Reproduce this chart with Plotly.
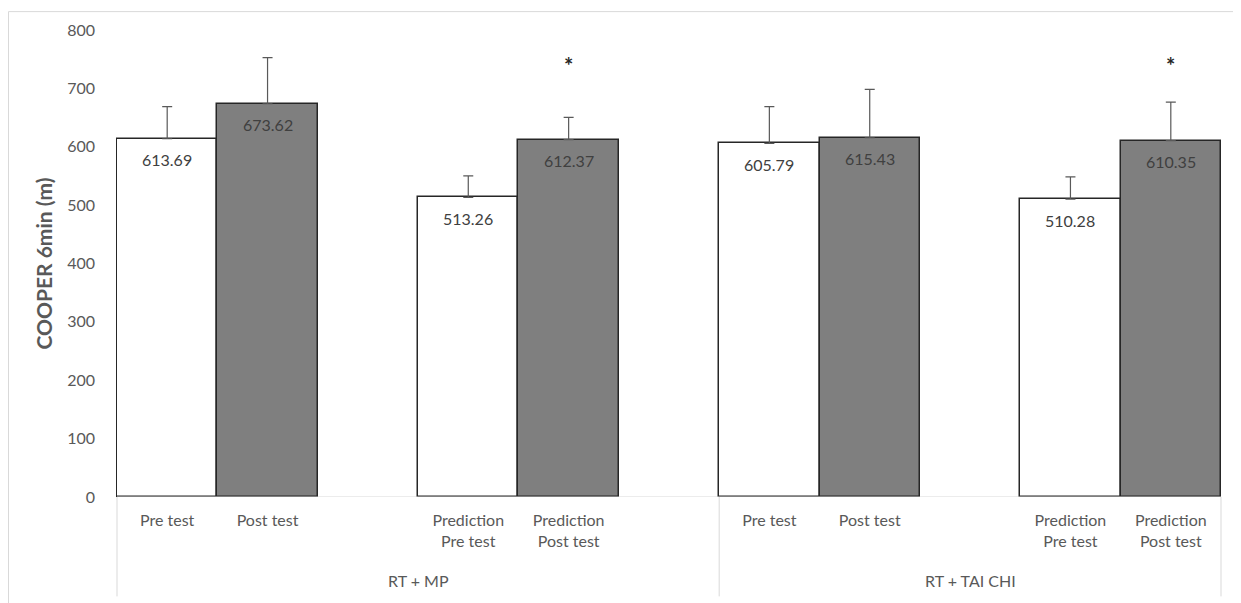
import plotly.graph_objects as go

# ---- data ----
groups = ["RT + MP", "RT + TAI CHI"]
pre_labels = ["Pre test", "Prediction<br>Pre test", "Pre test", "Prediction<br>Pre test"]
post_labels = ["Post test", "Prediction<br>Post test", "Post test", "Prediction<br>Post test"]
pre_values = [613.69, 513.26, 605.79, 510.28]
post_values = [673.62, 612.37, 615.43, 610.35]
pre_err = [55, 37, 63, 38]
post_err = [79, 38, 83, 66]
post_sig = ["", "*", "", "*"]
y_ticks = [0, 100, 200, 300, 400, 500, 600, 700, 800]

# category slot layout (Excel-like with blank spacer categories)
pre_x = [0, 3, 6, 9]
post_x = [1, 4, 7, 10]
group_centers = [2.5, 8.0]
dividers = [-0.5, 5.5, 10.5]

FONT = "Lato"
TXT = "#595959"

# page body has an 8px margin -> figure is offset by 8px
W, H = 1233, 595
ML, MR, MT, MB = 108, 19, 19, 106
PW, PH = W - ML - MR, H - MT - MB

fig = go.Figure()
fig.add_trace(go.Bar(
    x=pre_x, y=pre_values, width=1,
    marker=dict(color="white", line=dict(color="#262626", width=1.5)),
    error_y=dict(type="data", array=pre_err, arrayminus=[0]*len(pre_err), symmetric=False,
                 color="#595959", thickness=1.2, width=5),
    showlegend=False, hoverinfo="y",
))
fig.add_trace(go.Bar(
    x=post_x, y=post_values, width=1,
    marker=dict(color="#7f7f7f", line=dict(color="#262626", width=1.5)),
    error_y=dict(type="data", array=post_err, arrayminus=[0]*len(post_err), symmetric=False,
                 color="#595959", thickness=1.2, width=5),
    showlegend=False, hoverinfo="y",
))

annotations = []
for xs, vals in ((pre_x, pre_values), (post_x, post_values)):
    for xv, v in zip(xs, vals):
        annotations.append(dict(x=xv, y=v, xref="x", yref="y", text=f"{v:.2f}",
                                showarrow=False, yshift=-21,
                                font=dict(family=FONT, size=16, color="#404040")))
for xv, s in zip(post_x, post_sig):
    if s:
        annotations.append(dict(x=xv, y=740, xref="x", yref="y", text=f"<b>{s}</b>",
                                showarrow=False,
                                font=dict(family=FONT, size=22, color="#262626")))
for xc, g in zip(group_centers, groups):
    annotations.append(dict(x=xc, y=0, xref="x", yref="y", text=g, showarrow=False,
                            yshift=-83, font=dict(family=FONT, size=16, color=TXT)))

shapes = []
for d in dividers:
    shapes.append(dict(type="line", xref="x", yref="paper", x0=d, x1=d, y0=0, y1=-100 / PH,
                       line=dict(color="#d9d9d9", width=1)))
shapes.append(dict(type="line", xref="x", yref="y", x0=-0.5, x1=10.5, y0=0, y1=0,
                   line=dict(color="#d9d9d9", width=1)))
# chart-area border (top and left edges visible)
shapes.append(dict(type="rect", xref="paper", yref="paper",
                   x0=(0.5 - ML) / PW, x1=1 + (MR + 40) / PW,
                   y0=-(MB + 40) / PH, y1=1 + (MT - 0.5) / PH,
                   line=dict(color="#d9d9d9", width=1), layer="below"))

tickvals = pre_x + post_x
ticktext = pre_labels + post_labels

fig.update_layout(
    width=W, height=H,
    margin=dict(l=ML, r=MR, t=MT, b=MB),
    paper_bgcolor="white", plot_bgcolor="white",
    bargap=0, barmode="overlay",
    font=dict(family=FONT, color=TXT, size=16),
    xaxis=dict(range=[-0.51, 10.51], tickvals=tickvals, ticktext=ticktext,
               showgrid=False, zeroline=False, showline=False, ticks="",
               ticklabelstandoff=12,
               tickfont=dict(family=FONT, size=16, color=TXT)),
    yaxis=dict(range=[0, 800], tickvals=y_ticks, showgrid=False, zeroline=False,
               showline=False, ticks="", ticklabelstandoff=20,
               tickfont=dict(family=FONT, size=16, color=TXT)),
    annotations=annotations + [
        dict(x=(35 - ML) / PW, y=0.5, xref="paper", yref="paper",
             text="<b>COOPER 6min (m)</b>", textangle=-90, showarrow=False,
             xanchor="center", yanchor="middle",
             font=dict(family=FONT, size=21, color=TXT))
    ],
    shapes=shapes,
)

fig.write_html("out.html")
